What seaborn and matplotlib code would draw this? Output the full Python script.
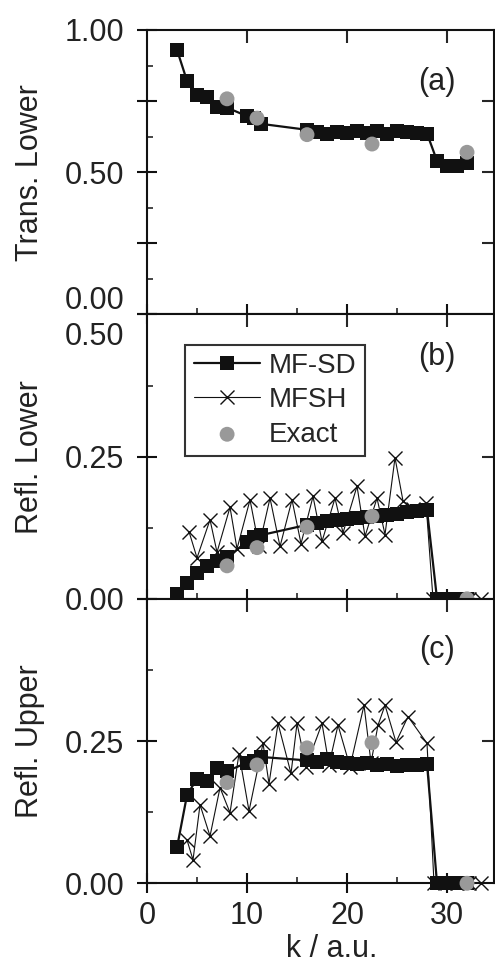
import numpy as np
import pandas as pd
import seaborn as sns
import matplotlib.pyplot as plt
from matplotlib.transforms import ScaledTranslation

# k grid of the MF-SD calculation
k_sd = [3, 4, 5, 6, 7, 8, 10, 10.7, 11.4, 16, 17, 18, 19, 20, 21, 22, 23, 24, 25, 26, 27, 28, 29, 30, 31, 32]
trans_lower_sd = [0.930, 0.821, 0.772, 0.766, 0.729, 0.727, 0.697, 0.690, 0.670,
                  0.649, 0.641, 0.636, 0.643, 0.637, 0.646, 0.638, 0.645, 0.635, 0.645,
                  0.640, 0.638, 0.636, 0.540, 0.521, 0.521, 0.532]
refl_lower_sd = [0.009, 0.028, 0.045, 0.057, 0.066, 0.073, 0.100, 0.108, 0.112,
                 0.130, 0.133, 0.136, 0.138, 0.140, 0.142, 0.144, 0.146, 0.148, 0.150,
                 0.152, 0.154, 0.156, 0.0, 0.0, 0.0, 0.0]
refl_upper_sd = [0.063, 0.155, 0.184, 0.180, 0.202, 0.197, 0.212, 0.215, 0.222,
                 0.216, 0.214, 0.218, 0.213, 0.212, 0.210, 0.211, 0.208, 0.210, 0.207,
                 0.208, 0.208, 0.210, 0.0, 0.0, 0.0, 0.0]

# MFSH (surface hopping) points
k_sh_lower = [4.2, 5.0, 6.3, 7.0, 8.3, 9.0, 10.3, 11.2, 12.3, 13.3, 14.5, 15.4, 16.6, 17.5,
              18.8, 19.6, 21.0, 21.8, 23.0, 23.8, 24.8, 25.6, 26.6, 27.9, 28.6, 29.8,
              31.0, 32.2, 33.4]
refl_lower_sh = [0.118, 0.072, 0.139, 0.082, 0.161, 0.088, 0.174, 0.092, 0.177, 0.092,
                 0.174, 0.097, 0.180, 0.101, 0.177, 0.116, 0.198, 0.110, 0.177, 0.113,
                 0.248, 0.172, 0.158, 0.168, 0.0, 0.0, 0.0, 0.0, 0.0]
k_sh_upper = [4.0, 4.6, 5.3, 6.3, 7.3, 8.3, 9.2, 10.2, 11.6, 12.2, 13.1, 14.4, 15.0, 15.9,
              17.5, 18.2, 19.1, 20.3, 21.7, 22.4, 23.1, 23.8, 24.9, 26.1, 28.0, 28.7,
              29.8, 31.0, 32.2, 33.4]
refl_upper_sh = [0.076, 0.041, 0.138, 0.083, 0.168, 0.124, 0.228, 0.127, 0.246, 0.175,
                 0.281, 0.193, 0.281, 0.205, 0.281, 0.208, 0.278, 0.205, 0.313, 0.212,
                 0.278, 0.313, 0.248, 0.293, 0.246, 0.0, 0.0, 0.0, 0.0, 0.0]

# exact results
k_exact = [8, 11, 16, 22.5, 32]
trans_lower_exact = [0.758, 0.690, 0.632, 0.599, 0.570]
refl_lower_exact = [0.058, 0.090, 0.126, 0.145, 0.0]
refl_upper_exact = [0.177, 0.208, 0.238, 0.247, 0.0]

panels = ["(a)", "(b)", "(c)"]
ylabels = ["Trans. Lower", "Refl. Lower", "Refl. Upper"]

sns.set_theme(style="ticks")
plt.rcParams["font.family"] = ["Liberation Sans", "DejaVu Sans"]
plt.rcParams["axes.linewidth"] = 1.5

FS = 22


def draw_sd(ax, y):
    sns.lineplot(x=k_sd, y=y, ax=ax, sort=False, estimator=None, color="#111111",
                 lw=1.6, marker="s", markersize=9.5, markeredgecolor="#111111",
                 markeredgewidth=0, zorder=3, clip_on=False, label="MF-SD")


def draw_sh(ax, k, y):
    sns.lineplot(x=k, y=y, ax=ax, sort=False, estimator=None, color="#111111",
                 lw=0.8, marker="x", markersize=10, markeredgecolor="#111111",
                 markeredgewidth=1.0, zorder=2, clip_on=False, label="MFSH")


def draw_exact(ax, y):
    sns.scatterplot(x=k_exact, y=y, ax=ax, s=115, color="#999999", edgecolor="none",
                    zorder=4, clip_on=False, label="Exact")


fig, axes = plt.subplots(3, 1, sharex=True, figsize=(4.95, 9.67), dpi=100,
                         gridspec_kw={"hspace": 0})
fig.subplots_adjust(left=0.296, right=0.998, top=0.969, bottom=0.0866)

draw_sd(axes[0], trans_lower_sd)
draw_exact(axes[0], trans_lower_exact)

draw_sh(axes[1], k_sh_lower, refl_lower_sh)
draw_sd(axes[1], refl_lower_sd)
draw_exact(axes[1], refl_lower_exact)

draw_sh(axes[2], k_sh_upper, refl_upper_sh)
draw_sd(axes[2], refl_upper_sd)
draw_exact(axes[2], refl_upper_exact)

# legend in panel (b)
handles, labels = axes[1].get_legend_handles_labels()
order = [labels.index(n) for n in ["MF-SD", "MFSH", "Exact"]]
for ax in axes:
    if ax.get_legend() is not None:
        ax.get_legend().remove()
leg = axes[1].legend([handles[i] for i in order], [labels[i] for i in order],
                     loc="upper left", bbox_to_anchor=(0.112, 0.894), borderaxespad=0,
                     fontsize=20, frameon=True, fancybox=False, handlelength=2.4,
                     handletextpad=0.3, labelspacing=0.3, borderpad=0.3)
leg.get_frame().set_edgecolor("black")
leg.get_frame().set_linewidth(1.5)

ylims = [(0, 1.0), (0, 0.5), (0, 0.5)]
yticks = [[0, 0.25, 0.5, 0.75, 1.0], [0, 0.25, 0.5], [0, 0.25, 0.5]]
yticklabels = [["0.00", "", "0.50", "", "1.00"], ["0.00", "0.25", "0.50"], ["0.00", "0.25", ""]]
yminor = [[0.125, 0.375, 0.625, 0.875], [0.125, 0.375], [0.125, 0.375]]

for i, ax in enumerate(axes):
    ax.set_xlim(-0.05, 34.7)
    ax.set_ylim(*ylims[i])
    ax.set_yticks(yticks[i], labels=yticklabels[i])
    ax.set_yticks(yminor[i], minor=True)
    ax.set_xticks([0, 10, 20, 30])
    ax.set_xticks([5, 15, 25], minor=True)
    ax.tick_params(which="major", direction="inout", length=14, width=1.5,
                   labelsize=FS, color="#111111", labelcolor="#222222",
                   top=False, right=False)
    ax.tick_params(axis="y", which="major", pad=9)
    ax.tick_params(axis="x", which="major", pad=6)
    ax.tick_params(which="minor", direction="in", length=4, width=1.2,
                   top=False, right=False)
    for s in ax.spines.values():
        s.set_color("#111111")
        s.set_linewidth(1.5)
    ax.set_ylabel(ylabels[i], fontsize=FS, color="#222222")
    ax.yaxis.set_label_coords(-0.292, 0.5)
    ax.set_xlabel("")

    sec_y = ax.secondary_yaxis("right")
    sec_y.set_yticks([t for t in yticks[i] if 0 < t < ylims[i][1]])
    sec_y.tick_params(direction="in", length=9, width=1.5, labelright=False)
    sec_y.spines["right"].set_visible(False)
    sec_x = ax.secondary_xaxis("top")
    sec_x.set_xticks([10, 20, 30])
    sec_x.tick_params(direction="in", length=9, width=1.5, labeltop=False)
    sec_x.spines["top"].set_visible(False)

    ax.text(0.835, [0.818, 0.849, 0.819][i], panels[i], transform=ax.transAxes,
            ha="center", va="center", fontsize=FS, color="#222222")

axes[2].set_xlabel("k / a.u.", fontsize=FS, color="#222222")
axes[2].xaxis.set_label_coords(0.533, -0.18)
axes[2].xaxis.label.set_va("top")

# nudge the two labels that meet at the (a)/(b) boundary
lab_a0 = axes[0].yaxis.get_major_ticks()[0].label1
lab_a0.set_transform(lab_a0.get_transform() + ScaledTranslation(0, 12 / 72, fig.dpi_scale_trans))
lab_b5 = axes[1].yaxis.get_major_ticks()[2].label1
lab_b5.set_transform(lab_b5.get_transform() + ScaledTranslation(0, -14 / 72, fig.dpi_scale_trans))

fig.savefig("out.png", dpi=100)
